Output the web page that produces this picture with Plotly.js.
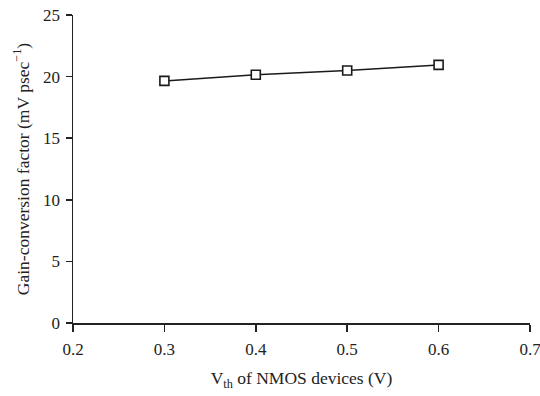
<!DOCTYPE html>
<html><head><meta charset="utf-8">
<script src="https://cdn.plot.ly/plotly-3.0.1.min.js"></script>
<style>body{margin:0;background:#fff}#chart{width:540px;height:396px}</style>
</head><body><div id="chart"></div>
<script>
var vth = [0.3, 0.4, 0.5, 0.6];
var gain = [19.65, 20.15, 20.5, 20.95];
var xTicks = [0.2, 0.3, 0.4, 0.5, 0.6, 0.7];
var yTicks = [0, 5, 10, 15, 20, 25];

var trace = {
  x: vth, y: gain, type: 'scatter', mode: 'lines+markers',
  line: {color: '#1a1a1a', width: 1.5},
  marker: {symbol: 'square', size: 9, color: '#ffffff', line: {color: '#1a1a1a', width: 1.6}},
  cliponaxis: false
};
var tickFont = {family: '"Liberation Serif", "Times New Roman", serif', size: 17, color: '#222'};
var titleFont = {family: '"Liberation Serif", "Times New Roman", serif', size: 17.5, color: '#222'};
var layout = {
  width: 540, height: 396,
  margin: {l: 73, r: 10, t: 15, b: 73},
  paper_bgcolor: '#fff', plot_bgcolor: '#fff',
  showlegend: false,
  font: tickFont,
  xaxis: {
    range: [0.2, 0.7], tickvals: xTicks, ticktext: xTicks.map(function(v){return v.toFixed(1);}),
    showgrid: false, zeroline: false, showline: true, linecolor: '#222', linewidth: 1.5,
    ticks: 'outside', ticklen: 7, tickwidth: 1.5, tickcolor: '#222',
    tickfont: tickFont, ticklabelstandoff: 3, ticklabeloverflow: 'allow',
    title: {text: 'V<sub>th</sub> of NMOS devices (V)', font: titleFont, standoff: 14}
  },
  yaxis: {
    range: [0, 25], tickvals: yTicks,
    showgrid: false, zeroline: false, showline: true, linecolor: '#222', linewidth: 1.5,
    ticks: 'outside', ticklen: 6, tickwidth: 1.5, tickcolor: '#222',
    tickfont: tickFont, ticklabelstandoff: 2,
    title: {text: 'Gain-conversion factor (mV psec<sup>−1</sup>)', font: titleFont, standoff: 9}
  }
};
Plotly.newPlot('chart', [trace], layout, {staticPlot: true, displayModeBar: false});
</script></body></html>
